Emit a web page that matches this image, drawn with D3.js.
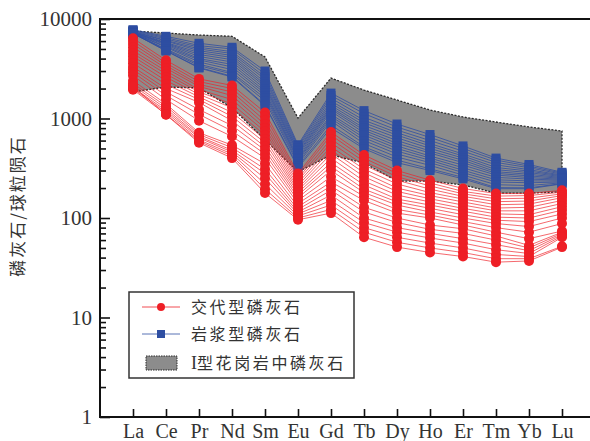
<!DOCTYPE html>
<html>
<head>
<meta charset="utf-8">
<script src="https://cdn.jsdelivr.net/npm/d3@7"></script>
<style>
  body { margin: 0; background: #fff; }
  svg { display: block; }
</style>
</head>
<body>
<div id="chart"></div>
<script>
const elements = ["La", "Ce", "Pr", "Nd", "Sm", "Eu", "Gd", "Tb", "Dy", "Ho", "Er", "Tm", "Yb", "Lu"];

// I-type granite apatite field (upper / lower envelope)
const fieldUpper = [7570, 7230, 6900, 6700, 4150, 1010, 2550, 1930, 1535, 1217, 1036, 922, 822, 749];
const fieldLower = [1850, 2070, 2030, 1280, 610, 290, 430, 357, 235, 235, 215, 178, 178, 183];

// hydrothermal (metasomatic) apatite
const redSeries = [
  [6400, 3850, 2500, 2150, 1150, 280, 730, 430, 300, 240, 198, 176, 176, 190],
  [6000, 3600, 2350, 2000, 1050, 265, 680, 400, 280, 225, 185, 166, 168, 182],
  [5600, 3400, 2200, 1850, 950, 250, 620, 370, 260, 210, 175, 156, 158, 175],
  [5200, 3200, 2100, 1700, 870, 238, 570, 340, 240, 195, 165, 146, 148, 168],
  [4800, 3000, 1950, 1550, 800, 225, 520, 310, 220, 180, 155, 136, 138, 160],
  [4500, 2800, 1850, 1400, 740, 212, 480, 285, 200, 168, 145, 126, 128, 150],
  [4200, 2600, 1750, 1280, 680, 200, 440, 260, 185, 156, 135, 118, 118, 140],
  [3900, 2400, 1650, 1150, 620, 190, 400, 235, 170, 145, 125, 110, 108, 130],
  [3600, 2200, 1550, 1050, 570, 180, 360, 215, 155, 135, 117, 102, 100, 120],
  [3300, 2000, 1450, 950, 520, 170, 330, 195, 145, 125, 108, 95, 92, 110],
  [3100, 1850, 1230, 850, 480, 160, 300, 180, 135, 115, 100, 88, 82, 100],
  [2900, 1700, 1100, 750, 440, 150, 260, 165, 122, 107, 92, 80, 72, 88],
  [2700, 1550, 950, 660, 400, 140, 230, 150, 112, 100, 85, 72, 62, 74],
  [2400, 1400, 720, 540, 350, 130, 210, 128, 100, 85, 78, 66, 53, 72],
  [2250, 1330, 690, 510, 310, 122, 190, 115, 90, 77, 70, 60, 50, 70],
  [2150, 1260, 660, 480, 280, 115, 170, 100, 80, 70, 62, 54, 47, 68],
  [2050, 1200, 640, 460, 250, 110, 150, 90, 72, 63, 56, 48, 44, 66],
  [2000, 1150, 610, 440, 220, 105, 135, 80, 64, 56, 50, 43, 41, 64],
  [1950, 1100, 590, 420, 195, 100, 122, 72, 57, 50, 45, 39, 39, 52],
  [2100, 1090, 570, 400, 178, 96, 112, 64, 51, 45, 41, 36, 37, 51]
];

// magmatic apatite
const blueSeries = [
  [7800, 6700, 5700, 5200, 3000, 545, 1800, 1200, 880, 690, 530, 400, 345, 288],
  [7700, 6500, 5400, 5000, 2800, 525, 1700, 1120, 820, 645, 500, 382, 332, 282],
  [7600, 6300, 5200, 4700, 2620, 505, 1600, 1030, 765, 600, 470, 362, 320, 276],
  [7500, 6100, 5000, 4500, 2480, 485, 1500, 960, 720, 560, 440, 342, 306, 270],
  [7450, 6000, 4800, 4300, 2320, 470, 1420, 905, 680, 530, 420, 322, 296, 265],
  [7400, 5800, 4600, 4100, 2200, 452, 1350, 850, 640, 500, 400, 306, 286, 260],
  [7350, 5700, 4400, 3900, 2100, 438, 1290, 800, 600, 472, 380, 292, 275, 255],
  [7300, 5600, 4200, 3700, 1990, 420, 1240, 760, 562, 450, 360, 281, 265, 250],
  [7250, 5480, 4000, 3500, 1880, 402, 1180, 720, 530, 420, 340, 270, 255, 245],
  [7200, 5300, 3880, 3300, 1790, 390, 1100, 680, 500, 400, 320, 256, 246, 240],
  [7200, 5200, 3700, 3100, 1700, 378, 1050, 640, 470, 380, 302, 242, 236, 235],
  [7150, 5000, 3520, 2900, 1600, 362, 1000, 600, 440, 360, 286, 230, 226, 230],
  [7150, 4900, 3400, 2800, 1500, 348, 945, 560, 410, 338, 270, 216, 212, 226],
  [7150, 4800, 3260, 2660, 1370, 332, 860, 520, 382, 312, 256, 202, 201, 222],
  [7200, 4770, 3220, 2610, 1340, 320, 805, 498, 360, 300, 247, 197, 197, 220]
];

const majorTicks = [1, 10, 100, 1000, 10000];
const minorTicks = [2, 3, 4, 5, 6, 7, 8, 9, 20, 30, 40, 50, 60, 70, 80, 90,
  200, 300, 400, 500, 600, 700, 800, 900, 2000, 3000, 4000, 5000, 6000, 7000, 8000, 9000];

const legendLabels = ["交代型磷灰石", "岩浆型磷灰石", "I型花岗岩中磷灰石"];
const yTitle = "磷灰石/球粒陨石";

const margin = { top: 19, right: 0, bottom: 24, left: 100 };
const W = 590, H = 441;
const width = 495;
const height = 398;

const red = "#ee1f26";
const blue = "#2e4ea2";
const serif = "'Liberation Serif', 'Times New Roman', serif";
const cjk = "'Noto Sans CJK SC', sans-serif";

const svg = d3.select("#chart")
  .append("svg")
  .attr("width", W)
  .attr("height", H);

const g = svg.append("g")
  .attr("transform", `translate(${margin.left},${margin.top})`);

const x = d3.scalePoint()
  .domain(elements)
  .range([0, width])
  .padding(1);

const y = d3.scaleLog()
  .domain([1, 10000])
  .range([height, 0]);

// shaded field
const area = d3.area()
  .x((d, i) => x(elements[i]))
  .y0((d, i) => y(fieldLower[i]))
  .y1(d => y(d));

g.append("path")
  .datum(fieldUpper)
  .attr("d", area)
  .attr("fill", "#8c8c8c");

const line = d3.line()
  .x((d, i) => x(elements[i]))
  .y(d => y(d));

const fieldOutline = fieldUpper.map((d, i) => [x(elements[i]), y(d)])
  .concat(fieldLower.map((d, i) => [x(elements[i]), y(d)]).reverse());

g.append("path")
  .attr("d", "M" + fieldOutline.join("L") + "Z")
  .attr("fill", "none")
  .attr("stroke", "#2a2a2a")
  .attr("stroke-width", 1.3)
  .attr("stroke-dasharray", "2,1.5");

// magmatic
const bl = g.append("g");
bl.selectAll("path.bl")
  .data(blueSeries)
  .enter()
  .append("path")
  .attr("d", line)
  .attr("fill", "none")
  .attr("stroke", blue)
  .attr("stroke-width", 0.8);

blueSeries.forEach(s => {
  bl.selectAll(null)
    .data(s)
    .enter()
    .append("rect")
    .attr("x", (d, i) => x(elements[i]) - 4.5)
    .attr("y", d => y(d) - 4.5)
    .attr("width", 9)
    .attr("height", 9)
    .attr("fill", blue);
});

// metasomatic
const rd = g.append("g");
rd.selectAll("path.rd")
  .data(redSeries)
  .enter()
  .append("path")
  .attr("d", line)
  .attr("fill", "none")
  .attr("stroke", red)
  .attr("stroke-opacity", 0.85)
  .attr("stroke-width", 0.8);

redSeries.forEach(s => {
  rd.selectAll(null)
    .data(s)
    .enter()
    .append("circle")
    .attr("cx", (d, i) => x(elements[i]))
    .attr("cy", d => y(d))
    .attr("r", 5)
    .attr("fill", red);
});

// frame
g.append("line").attr("x1", 0).attr("x2", W).attr("y1", 0).attr("y2", 0)
  .attr("stroke", "#111").attr("stroke-width", 2);

// axes
const yAxis = d3.axisLeft(y)
  .tickValues(majorTicks)
  .tickFormat(d3.format("d"))
  .tickSize(-10)
  .tickPadding(8);

const yMinor = d3.axisLeft(y)
  .tickValues(minorTicks)
  .tickFormat("")
  .tickSize(-6);

const xAxis = d3.axisBottom(x)
  .tickSize(-8)
  .tickPadding(8);

const ya = g.append("g").call(yAxis);
g.append("g").call(yMinor);
const xa = g.append("g")
  .attr("transform", `translate(0,${height})`)
  .call(xAxis);

g.selectAll(".domain").remove();
g.append("line").attr("x1", 0).attr("x2", 0).attr("y1", -1).attr("y2", height + 1)
  .attr("stroke", "#111").attr("stroke-width", 2);
g.append("line").attr("x1", 0).attr("x2", W).attr("y1", height).attr("y2", height)
  .attr("stroke", "#111").attr("stroke-width", 2);

g.selectAll(".tick line").attr("stroke", "#111").attr("stroke-width", 1.6);

ya.selectAll("text")
  .attr("font-family", serif)
  .attr("font-size", 21)
  .attr("fill", "#333");

xa.selectAll("text")
  .attr("font-family", serif)
  .attr("font-size", 20)
  .attr("fill", "#333")
  .attr("dy", "0.72em")
  .attr("y", 7);

// y title
svg.append("text")
  .attr("transform", `translate(24,206) rotate(-90)`)
  .attr("text-anchor", "middle")
  .attr("font-family", cjk)
  .attr("font-size", 17)
  .attr("letter-spacing", 2)
  .attr("fill", "#333")
  .text(yTitle);

// legend
const lg = svg.append("g").attr("transform", "translate(129,292)");
lg.append("rect")
  .attr("width", 225)
  .attr("height", 86)
  .attr("fill", "#fff")
  .attr("stroke", "#333")
  .attr("stroke-width", 1.5);

const rowY = [15, 42, 71];
[[red, "circle"], [blue, "square"]].forEach(([c, shape], i) => {
  lg.append("line")
    .attr("x1", 13).attr("x2", 51)
    .attr("y1", rowY[i]).attr("y2", rowY[i])
    .attr("stroke", c).attr("stroke-width", 0.8);
  if (shape === "circle") {
    lg.append("circle").attr("cx", 32).attr("cy", rowY[i]).attr("r", 4).attr("fill", c);
  } else {
    lg.append("rect").attr("x", 28).attr("y", rowY[i] - 4).attr("width", 8).attr("height", 8).attr("fill", c);
  }
});
lg.append("rect")
  .attr("x", 17).attr("y", rowY[2] - 7)
  .attr("width", 31).attr("height", 14)
  .attr("fill", "#8c8c8c")
  .attr("stroke", "#2a2a2a")
  .attr("stroke-width", 1)
  .attr("stroke-dasharray", "1.5,1");

const labs = lg.selectAll("text.lab")
  .data(legendLabels)
  .enter()
  .append("text")
  .attr("x", 62)
  .attr("y", (d, i) => rowY[i])
  .attr("dy", "0.36em")
  .attr("font-family", cjk)
  .attr("font-size", 16)
  .attr("letter-spacing", 2.6)
  .attr("fill", "#333");

// leading latin "I" set in serif like the original
labs.each(function (d) {
  const t = d3.select(this);
  if (d[0] === "I") {
    t.append("tspan").attr("font-family", serif).attr("font-size", 18).attr("letter-spacing", 0).text("I");
    t.append("tspan").text(d.slice(1));
  } else {
    t.text(d);
  }
});
</script>
</body>
</html>
